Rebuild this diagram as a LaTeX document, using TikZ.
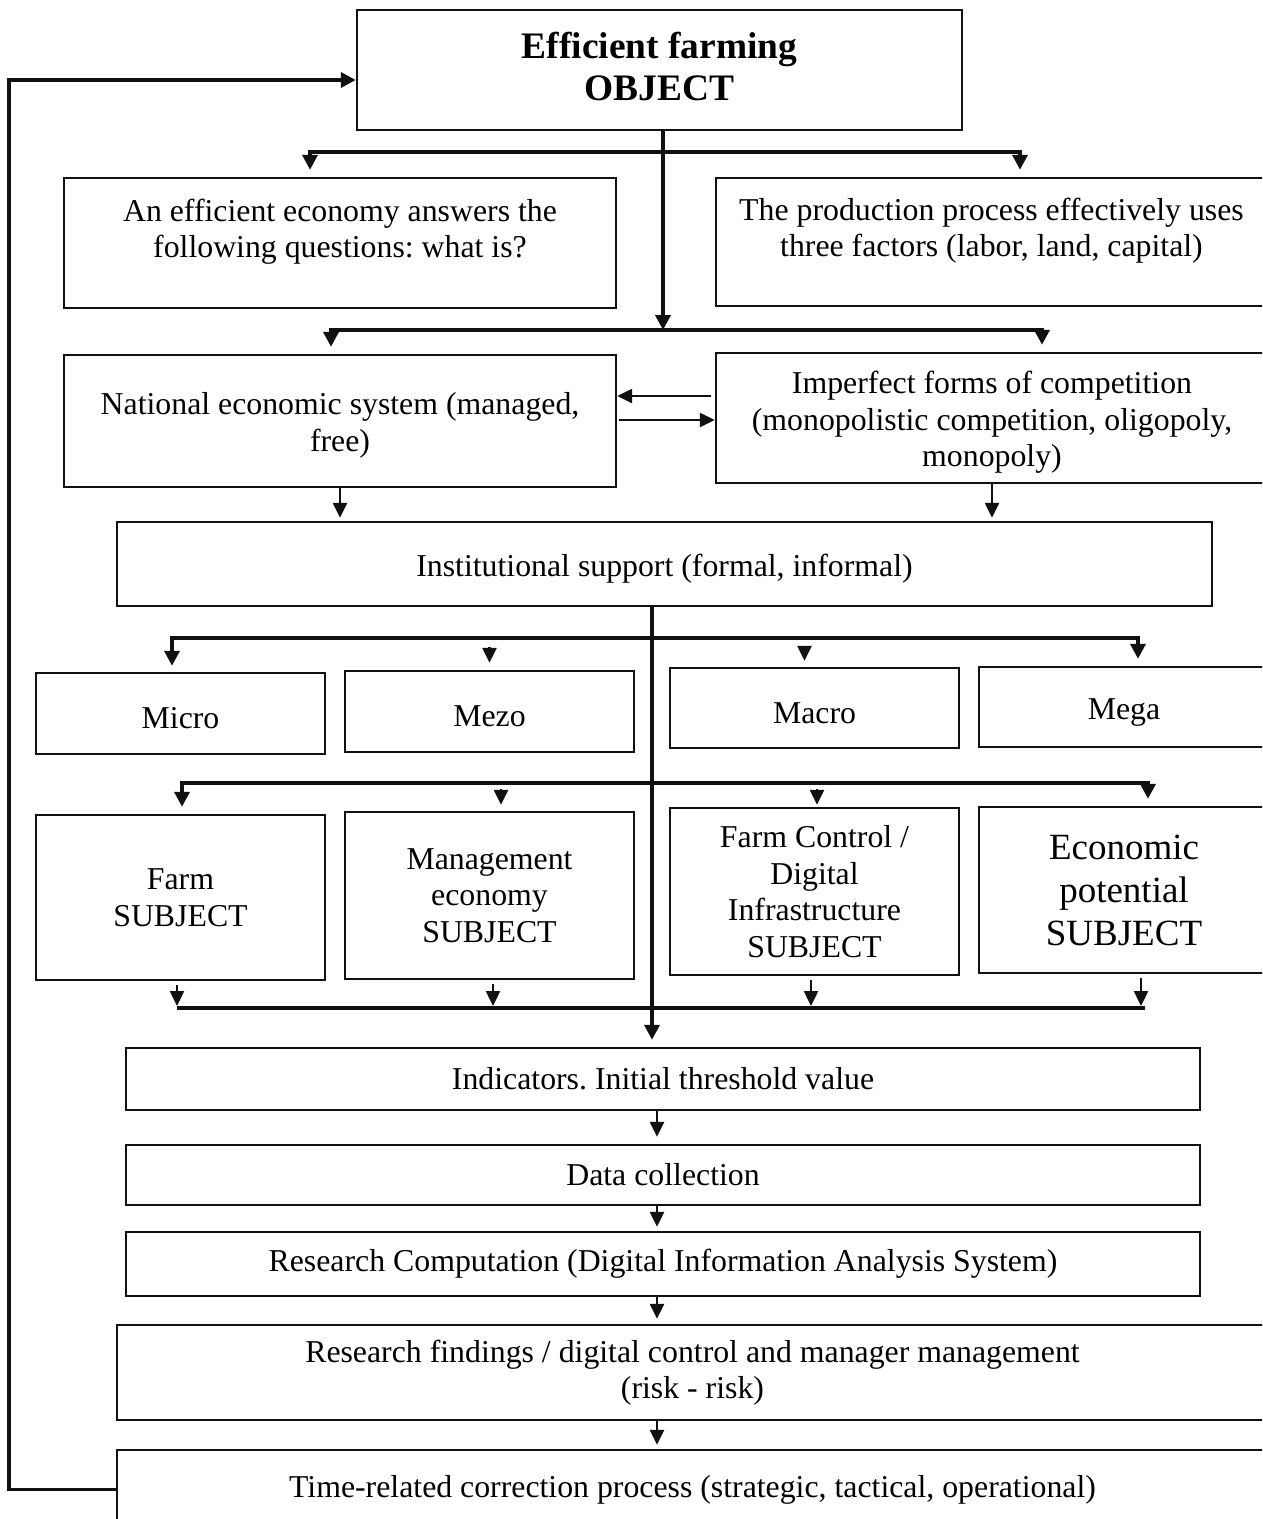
\documentclass[tikz,border=0pt]{standalone}
\usepackage{fontspec}
\setmainfont{Liberation Serif}
\usetikzlibrary{arrows.meta}
\definecolor{schemeInk}{HTML}{111111}
\newcommand{\tallrule}{\rule{0pt}{31pt}}
\frenchspacing
\tikzset{
  blk/.style={draw=schemeInk, line width=2.4pt, align=center, inner sep=0pt, font=\fontsize{31.8}{36.5}\selectfont},
  bus/.style={draw=schemeInk, line width=3.6pt},
  busarr/.style={bus, -{Triangle[width=15pt,length=15pt]}},
  busboth/.style={bus, {Triangle[width=15pt,length=15pt]}-{Triangle[width=15pt,length=15pt]}, shorten <=7pt, shorten >=7pt},
  tick/.style={draw=schemeInk, line width=2.4pt, -{Triangle[width=14pt,length=15pt]}},
  lift/.style={text depth=29pt},
}

\begin{document}
\begin{tikzpicture}[x=1pt, y=-1pt]
  \useasboundingbox (0,0) rectangle (1262,1519);
  \clip (0,0) rectangle (1262,1519);

  % boxes
  \node[blk, minimum width=605, minimum height=120, text depth=8pt, font=\bfseries\fontsize{37.4}{42}\selectfont] (obj) at (659.5,70) {Efficient farming\\OBJECT};
  \node[blk, lift, minimum width=552, minimum height=130] (qs) at (340,243) {An efficient economy answers the\\following questions: what is?};
  \node[blk, lift, minimum width=551, minimum height=128] (prod) at (991.5,242) {The production process effectively uses\\three factors (labor, land, capital)};
  \node[blk, minimum width=552, minimum height=132] (nat) at (340,421) {\tallrule National economic system (managed,\\free)};
  \node[blk, minimum width=552, minimum height=130] (imp) at (992,418) {\tallrule Imperfect forms of competition\\(monopolistic competition, oligopoly,\\monopoly)};
  \node[blk, minimum width=1095, minimum height=84] (inst) at (664.5,564) {\tallrule Institutional support (formal, informal)};

  \node[blk, minimum width=289, minimum height=81] (micro) at (180.5,713.5) {\tallrule Micro};
  \node[blk, minimum width=289, minimum height=81] (mezo) at (489.5,711.5) {\tallrule Mezo};
  \node[blk, minimum width=289, minimum height=80] (macro) at (814.5,708) {\tallrule Macro};
  \node[blk, minimum width=290, minimum height=80] (mega) at (1124,707) {\tallrule Mega};

  \node[blk, minimum width=289, minimum height=165] (farm) at (180.5,897.5) {Farm\\SUBJECT};
  \node[blk, minimum width=289, minimum height=167] (mgmt) at (489.5,895.5) {Management\\economy\\SUBJECT};
  \node[blk, minimum width=289, minimum height=167] (ctrl) at (814.5,891.5) {Farm Control /\\Digital\\Infrastructure\\SUBJECT};
  \node[blk, minimum width=290, minimum height=166, font=\fontsize{37}{43}\selectfont] (econ) at (1124,890) {Economic\\potential\\SUBJECT};

  \node[blk, minimum width=1074, minimum height=62] (ind) at (663,1079) {Indicators. Initial threshold value};
  \node[blk, minimum width=1074, minimum height=60] (data) at (663,1175) {Data collection};
  \node[blk, minimum width=1074, minimum height=64] (comp) at (663,1264) {Research Computation (Digital Information Analysis System)};
  \node[blk, minimum width=1151, minimum height=95] (find) at (692.5,1372.5) {Research findings / digital control and manager management\\(risk - risk)};
  \node[blk, minimum width=1151, minimum height=79] (time) at (692.5,1489.5) {Time-related correction process (strategic, tactical, operational)};

  % junctions
  \coordinate (s1) at (663,330);
  \coordinate (b1l) at (310,152);
  \coordinate (b1r) at (1020,152);
  \coordinate (b2l) at (331,330);
  \coordinate (b2r) at (1042,330);
  \coordinate (s2) at (652,0);
  \coordinate (b3l) at (172,638);
  \coordinate (b3r) at (1138,638);
  \coordinate (b4l) at (182,783);
  \coordinate (b4r) at (1148,783);
  \coordinate (b5l) at (177,1008);
  \coordinate (b5r) at (1145,1008);
  \coordinate (mid) at (657,0);
  \coordinate (fb) at (9,80);

  % upper part
  \draw[busarr] (obj.south -| s1) -- (s1);
  \draw[busboth] (b1l |- qs.north) -- (b1l) -- (b1r) -- (b1r |- prod.north);
  \draw[busboth] (b2l |- nat.north) -- (b2l) -- (b2r) -- (b2r |- imp.north);
  \draw[tick, shorten <=4pt] (imp.west |- 0,396) -- (nat.east |- 0,396);
  \draw[tick, shorten <=2pt] (nat.east |- 0,420) -- (imp.west |- 0,420);
  \draw[tick, shorten >=3pt] (nat.south) -- (nat.south |- inst.north);
  \draw[tick, shorten >=3pt] (imp.south) -- (imp.south |- inst.north);

  % levels and subjects
  \draw[busarr, shorten >=7pt] (inst.south -| s2) -- (ind.north -| s2);
  \draw[busboth, shorten <=6pt] (b3l |- micro.north) -- (b3l) -- (b3r) -- (b3r |- mega.north);
  \draw[tick, shorten >=7pt] ([yshift=23pt]mezo.north) -- (mezo.north);
  \draw[tick, shorten >=6pt] ([xshift=-10pt, yshift=20pt]macro.north) -- ([xshift=-10pt]macro.north);
  \draw[busboth] (b4l |- farm.north) -- (b4l) -- (b4r) -- (b4r |- econ.north);
  \draw[tick, shorten >=6pt] ([xshift=11.5pt, yshift=22pt]mgmt.north) -- ([xshift=11.5pt]mgmt.north);
  \draw[tick, shorten >=2pt] ([xshift=2.5pt, yshift=18pt]ctrl.north) -- ([xshift=2.5pt]ctrl.north);
  \draw[bus] (b5l) -- (b5r);
  \draw[tick, shorten <=4pt, shorten >=2pt] ([xshift=-3.5pt]farm.south) -- ([xshift=-3.5pt]farm.south |- b5l);
  \draw[tick, shorten <=4pt, shorten >=2pt] ([xshift=3.5pt]mgmt.south) -- ([xshift=3.5pt]mgmt.south |- b5l);
  \draw[tick, shorten <=4pt, shorten >=2pt] ([xshift=-3.5pt]ctrl.south) -- ([xshift=-3.5pt]ctrl.south |- b5l);
  \draw[tick, shorten <=4pt, shorten >=2pt] ([xshift=17pt]econ.south) -- ([xshift=17pt]econ.south |- b5l);

  % lower chain
  \draw[tick, shorten >=7pt] (ind.south -| mid) -- (data.north -| mid);
  \draw[tick, shorten >=4pt] (data.south -| mid) -- (comp.north -| mid);
  \draw[tick, shorten >=5pt] (comp.south -| mid) -- (find.north -| mid);
  \draw[tick, shorten >=4pt] (find.south -| mid) -- (time.north -| mid);

  % feedback
  \draw[busarr] (time.west) -| (fb) -- (obj.west |- fb);
\end{tikzpicture}
\end{document}
